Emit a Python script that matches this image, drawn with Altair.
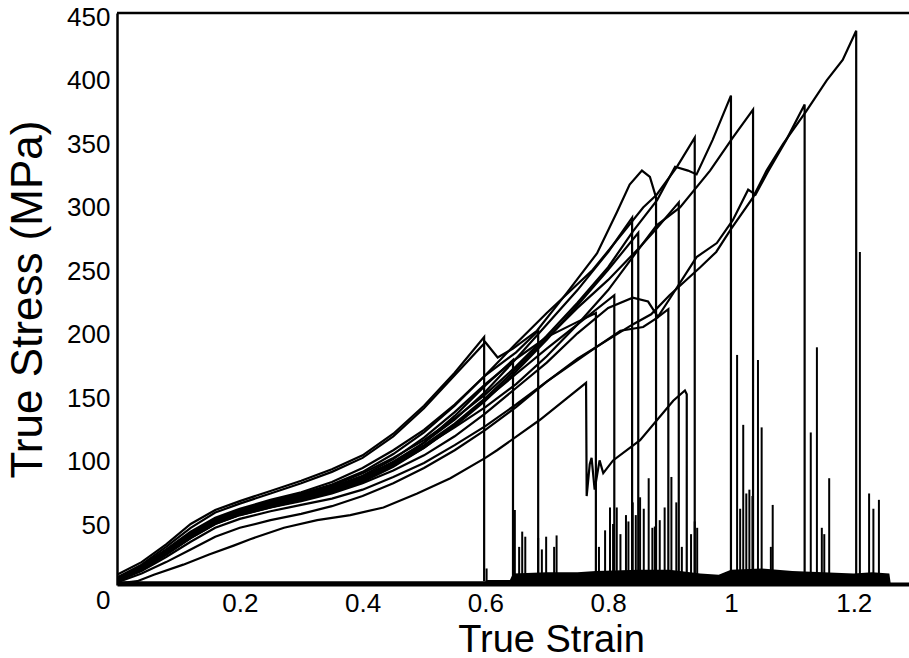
import altair as alt
import pandas as pd

# ---------------- data ----------------
G = [0, 0.04, 0.08, 0.12, 0.16, 0.2, 0.25, 0.3, 0.35, 0.4, 0.45, 0.5, 0.55, 0.6]

c01_x = G[:13] + [0.598, 0.598]
c01_y = [8, 18, 32, 48, 59, 66, 74, 82, 91, 102, 119, 141, 167, 195, 3]

c02_x = G + [0.62, 0.645, 0.684, 0.733, 0.782, 0.814, 0.835, 0.855, 0.868, 0.878, 0.878]
c02_y = [6, 16, 30, 45, 57, 64, 72, 80, 89, 100, 117, 139, 165, 191,
         179, 186, 200, 230, 261, 293, 315, 326, 321, 305, 4]

c03_x = G + [0.65, 0.7, 0.775, 0.824, 0.857, 0.879, 0.912, 0.941, 0.941]
c03_y = [5, 15, 28, 42, 53, 60, 67, 73, 81, 92, 106, 122, 142, 165,
         190, 214, 248, 277, 297, 307, 329, 352, 4]

c04_x = G + [0.65, 0.7, 0.75, 0.8, 0.84, 0.88, 0.909, 0.93, 0.944, 0.97, 1.0, 1.0]
c04_y = [4, 14, 27, 40, 51, 58, 65, 71, 78, 88, 100, 114, 131, 150,
         172, 196, 222, 250, 278, 303, 329, 326, 323, 350, 385, 5]

c05_x = G + [0.65, 0.7, 0.75, 0.8, 0.84, 0.879, 0.917, 0.966, 1.003, 1.036, 1.036]
c05_y = [5, 14, 26, 39, 50, 57, 63, 69, 76, 85, 96, 109, 124, 140,
         158, 180, 205, 232, 258, 283, 297, 326, 352, 374, 5]

c06_x = G + [0.65, 0.7, 0.75, 0.8, 0.84, 0.865, 0.881, 0.9, 0.944, 0.977, 1.003,
             1.028, 1.04, 1.06, 1.09, 1.12, 1.12]
c06_y = [3, 12, 24, 37, 48, 55, 61, 66, 72, 80, 90, 102, 117, 135,
         155, 175, 198, 218, 226, 223, 211, 225, 258, 269, 287, 311, 307, 325, 350, 378, 6]

c07_x = G + [0.65, 0.7, 0.75, 0.8, 0.84, 0.87, 0.9, 0.95, 0.976, 1.0, 1.036, 1.058,
             1.085, 1.123, 1.156, 1.182, 1.204, 1.204]
c07_y = [3, 11, 22, 34, 45, 52, 58, 63, 68, 75, 85, 96, 110, 125,
         142, 160, 178, 193, 205, 213, 228, 250, 262, 280, 305, 326, 347, 373, 397, 413, 436, 8]

c08_x = G + [0.645, 0.645]
c08_y = [4, 13, 25, 38, 49, 56, 62, 67, 73, 82, 95, 112, 133, 157, 177, 4]

c09_x = G + [0.65, 0.686, 0.686]
c09_y = [5, 15, 27, 41, 52, 59, 66, 72, 79, 89, 103, 120, 141, 165, 183, 200, 4]

c10_x = [0, 0.033, 0.06, 0.108, 0.15, 0.19, 0.217, 0.272, 0.326, 0.38, 0.434, 0.489, 0.543,
         0.6, 0.619, 0.689, 0.764, 0.765, 0.77, 0.773, 0.778, 0.786, 0.792, 0.808, 0.852,
         0.906, 0.925, 0.928, 0.928]
c10_y = [1, 3, 8, 16, 24, 31, 36, 45, 51, 55, 61, 72, 84,
         100, 106, 130, 159, 70, 95, 100, 75, 98, 88, 98, 114, 145, 153, 150, 3]

c11_x = G + [0.65, 0.7, 0.75, 0.78, 0.78]
c11_y = [4, 13, 26, 40, 51, 58, 64, 70, 77, 86, 99, 116, 136, 158, 178, 195, 207, 214, 4]

c12_x = G + [0.65, 0.7, 0.75, 0.81, 0.81]
c12_y = [3, 12, 24, 37, 48, 55, 61, 67, 73, 81, 93, 108, 126, 146, 166, 186, 205, 228, 4]

c13_x = G + [0.65, 0.7, 0.75, 0.8, 0.839, 0.839]
c13_y = [4, 14, 26, 40, 51, 58, 64, 70, 76, 85, 97, 112, 130, 152, 178, 205, 232, 262, 289, 4]

c14_x = G + [0.65, 0.7, 0.75, 0.8, 0.849, 0.849]
c14_y = [4, 13, 25, 38, 49, 56, 62, 68, 74, 83, 94, 108, 125, 145, 168, 193, 220, 248, 277, 4]

c15_x = G + [0.65, 0.7, 0.78, 0.82, 0.857, 0.879, 0.898, 0.898]
c15_y = [2, 9, 18, 28, 38, 45, 51, 56, 62, 70, 80, 92, 106, 122, 140, 160, 187, 200, 203, 210, 217, 4]

c16_x = G + [0.65, 0.7, 0.75, 0.8, 0.85, 0.88, 0.915, 0.915]
c16_y = [4, 13, 25, 39, 50, 57, 63, 68, 75, 84, 96, 110, 127, 147, 170, 194, 218, 240, 265, 281, 301, 4]

# residual load band after fracture (upper edge)
band_x = [0, 0.6, 0.601, 0.64, 0.645, 0.7, 0.75, 0.78, 0.85, 0.9, 0.95, 0.98, 1.0,
          1.05, 1.1, 1.15, 1.2, 1.23, 1.258, 1.26, 1.29]
band_y = [3, 3, 4, 4, 9, 10, 10, 11, 12, 12, 9, 8, 12, 13, 11, 10, 9, 10, 9, 2, 2]

# post-fracture spikes
spike_x = [0.602, 0.648, 0.655, 0.66, 0.665, 0.686, 0.692, 0.699, 0.712, 0.716,
           0.785, 0.795, 0.803, 0.808, 0.814, 0.82, 0.829, 0.833, 0.84, 0.845, 0.852,
           0.858, 0.866, 0.872, 0.876, 0.884, 0.892, 0.903, 0.911, 0.92, 0.935, 0.941, 0.945,
           1.01, 1.015, 1.02, 1.025, 1.03, 1.035, 1.044, 1.05, 1.065, 1.068,
           1.13, 1.14, 1.148, 1.152, 1.16, 1.21, 1.225, 1.232, 1.241]
spike_y = [13, 59, 30, 42, 38, 37, 28, 38, 30, 39,
           30, 43, 61, 48, 61, 40, 55, 50, 65, 55, 69,
           60, 84, 45, 46, 51, 61, 85, 65, 30, 40, 50, 45,
           181, 60, 126, 72, 75, 70, 177, 124, 30, 63,
           120, 187, 45, 40, 84, 262, 72, 60, 67]

y_ticks = [0, 50, 100, 150, 200, 250, 300, 350, 400, 450]
x_ticks = [0.2, 0.4, 0.6, 0.8, 1, 1.2]

# ---------------- build tables ----------------
curves = {
    "c01": (c01_x, c01_y), "c02": (c02_x, c02_y), "c03": (c03_x, c03_y),
    "c04": (c04_x, c04_y), "c05": (c05_x, c05_y), "c06": (c06_x, c06_y),
    "c07": (c07_x, c07_y), "c08": (c08_x, c08_y), "c09": (c09_x, c09_y),
    "c10": (c10_x, c10_y), "c11": (c11_x, c11_y), "c12": (c12_x, c12_y),
    "c13": (c13_x, c13_y), "c14": (c14_x, c14_y), "c15": (c15_x, c15_y),
    "c16": (c16_x, c16_y),
}
rows = []
for name, (xs_, ys_) in curves.items():
    for i, (a, b) in enumerate(zip(xs_, ys_)):
        rows.append({"curve": name, "strain": a, "stress": b, "order": i})
df = pd.DataFrame(rows)
band = pd.DataFrame({"strain": band_x, "stress": band_y})
spikes = pd.DataFrame({"strain": spike_x, "stress": spike_y, "base": [3] * len(spike_x)})

FONT = "Liberation Sans"
xs = alt.Scale(domain=[0, 1.29], nice=False, zero=False)
ys = alt.Scale(domain=[0, 450], nice=False)

x_axis = alt.Axis(
    values=x_ticks, format="~g", title="True Strain", grid=False,
    domainColor="black", domainWidth=2, tickSize=0, labelPadding=5,
    labelFont=FONT, labelFontSize=26, labelColor="black",
    titleFont=FONT, titleFontSize=38, titleFontWeight="normal", titleColor="black",
    titleX=434, titleY=66, titleBaseline="alphabetic", titleAlign="center",
)
y_axis = alt.Axis(
    values=y_ticks, title="True Stress (MPa)", grid=False,
    domainColor="black", domainWidth=2.5, tickSize=0, labelPadding=7,
    labelOffset={"condition": {"test": "datum.value == 0", "value": 15}, "value": 4},
    labelFont=FONT, labelFontSize=26, labelColor="black",
    titleFont=FONT, titleFontSize=44, titleFontWeight="normal", titleColor="black",
    titleAngle=270, titleX=-76, titleY=286, titleBaseline="alphabetic", titleAlign="center",
)

lines = alt.Chart(df).mark_line(color="black", strokeWidth=2.2, clip=True).encode(
    x=alt.X("strain:Q", scale=xs, axis=x_axis),
    y=alt.Y("stress:Q", scale=ys, axis=y_axis),
    detail="curve:N",
    order="order:Q",
)

band_area = alt.Chart(band).mark_area(color="black", clip=True).encode(
    x=alt.X("strain:Q", scale=xs),
    y=alt.Y("stress:Q", scale=ys),
)

spike_rules = alt.Chart(spikes).mark_rule(color="black", strokeWidth=2, clip=True).encode(
    x=alt.X("strain:Q", scale=xs),
    y=alt.Y("stress:Q", scale=ys),
    y2="base:Q",
)

top_frame = alt.Chart(pd.DataFrame({"k": [0]})).mark_rule(color="black", strokeWidth=2.5).encode(
    x=alt.value(0), x2=alt.value(792), y=alt.value(0)
)

chart = alt.layer(band_area, spike_rules, lines, top_frame).properties(
    width=792, height=572,
    autosize=alt.AutoSizeParams(type="none"),
    padding={"left": 117, "top": 13, "right": 0, "bottom": 73},
    background="white",
).configure_view(stroke=None)

chart.save("out.html", embed_options={"renderer": "svg", "actions": False})
